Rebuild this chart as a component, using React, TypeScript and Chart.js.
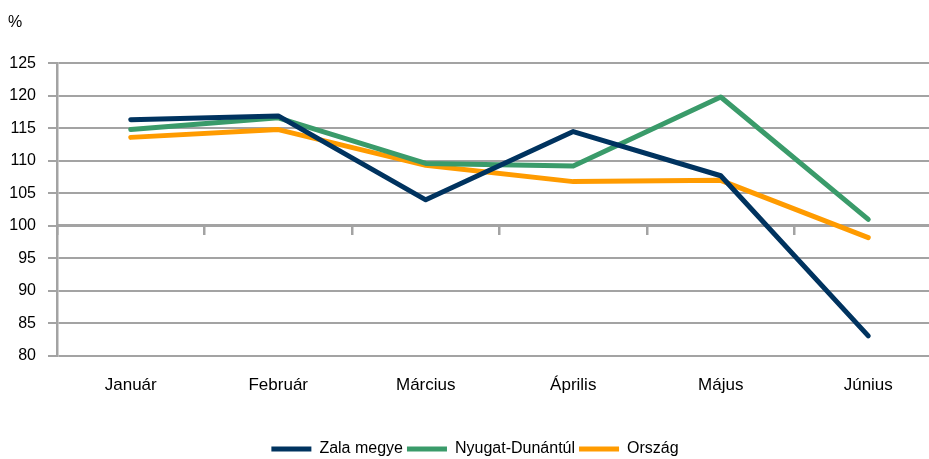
import React, { useEffect, useRef } from "react";
import { Chart, registerables } from "chart.js";

Chart.register(...registerables);

const categories = ["Január", "Február", "Március", "Április", "Május", "Június"];
const zalaMegye = [116.3, 116.9, 104.0, 114.5, 107.7, 83.1];
const nyugatDunantul = [114.8, 116.6, 109.6, 109.2, 119.8, 101.0];
const orszag = [113.6, 114.8, 109.3, 106.8, 107.0, 98.2];
const seriesNames = ["Zala megye", "Nyugat-Dunántúl", "Ország"];
const yMin = 80;
const yMax = 125;
const yStep = 5;
const crossValue = 100;

const GRID = "#a3a3a3";
const FONT = "'Liberation Sans', Arial, sans-serif";

export default function App() {
  const ref = useRef<HTMLCanvasElement | null>(null);

  useEffect(() => {
    if (!ref.current) return;
    const mk = (label: string, data: number[], color: string) => ({
      label,
      data,
      borderColor: color,
      backgroundColor: color,
      borderWidth: 5,
      borderCapStyle: "round" as const,
      borderJoinStyle: "round" as const,
      pointRadius: 0,
      pointHoverRadius: 0,
      pointStyle: "line" as const,
      tension: 0,
      fill: false,
    });
    const chart = new Chart(ref.current, {
      type: "line",
      data: {
        labels: categories,
        datasets: [
          mk(seriesNames[0], zalaMegye, "#00335f"),
          mk(seriesNames[1], nyugatDunantul, "#3a9b6a"),
          mk(seriesNames[2], orszag, "#ff9b00"),
        ],
      },
      options: {
        animation: false,
        responsive: true,
        maintainAspectRatio: false,
        layout: { padding: { left: 8, right: 8, top: 0, bottom: 0 } },
        plugins: {
          tooltip: { enabled: false },
          title: {
            display: true,
            text: "%",
            align: "start",
            color: "#000",
            font: { family: FONT, size: 16, weight: "normal" },
            padding: { top: 13, bottom: 31 },
          },
          legend: {
            position: "bottom",
            labels: {
              usePointStyle: true,
              pointStyle: "line",
              pointStyleWidth: 40,
              padding: 4,
              color: "#000",
              font: { family: FONT, size: 16 },
            },
          },
        },
        scales: {
          x: {
            type: "category",
            position: "bottom",
            offset: true,
            grid: { display: false, drawTicks: false },
            border: { display: false },
            ticks: {
              color: "#000",
              padding: 19,
              font: { family: FONT, size: 17 },
              maxRotation: 0,
            },
            afterFit: (s: any) => {
              s.height = 81;
            },
          },
          x2: {
            type: "category",
            position: { y: crossValue } as any,
            offset: true,
            grid: {
              drawOnChartArea: false,
              offset: true,
              tickLength: 8,
              color: GRID,
              lineWidth: 2.5,
            },
            border: { display: true, color: GRID, width: 3 },
            ticks: { display: false },
          },
          y: {
            min: yMin,
            max: yMax,
            ticks: {
              stepSize: yStep,
              color: "#000",
              padding: 12,
              font: { family: FONT, size: 16 },
            },
            grid: { color: GRID, lineWidth: 2, tickLength: 9 },
            border: { color: GRID, width: 2.5 },
            afterFit: (s: any) => {
              s.width = 49;
            },
          },
        },
      },
    });
    return () => chart.destroy();
  }, []);

  return (
    <div
      style={{
        position: "absolute",
        left: 0,
        top: 0,
        width: 929,
        height: 459,
        overflow: "hidden",
        background: "#fff",
      }}
    >
      <div style={{ position: "relative", width: 950, height: 467 }}>
        <canvas ref={ref} />
      </div>
    </div>
  );
}
